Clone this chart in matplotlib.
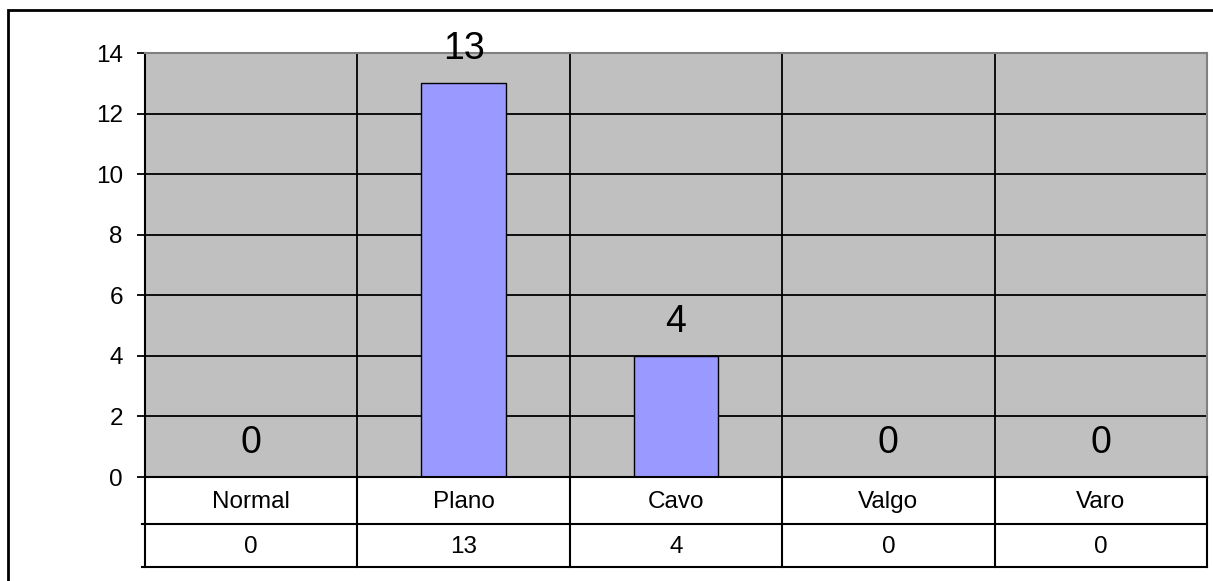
import matplotlib
matplotlib.use("Agg")
import matplotlib.pyplot as plt
from matplotlib.patches import Rectangle
from matplotlib.transforms import blended_transform_factory

categories = ["Normal", "Plano", "Cavo", "Valgo", "Varo"]
values = [0, 13, 4, 0, 0]
yticks = [0, 2, 4, 6, 8, 10, 12, 14]

plt.rcParams['font.family'] = ['Liberation Sans', 'DejaVu Sans']

W, H = 1213, 581
fig = plt.figure(figsize=(W / 100, H / 100), dpi=100)
fig.patch.set_facecolor('white')

# outer frame
fig.patches.append(Rectangle((8 / W, 0 - 0.05), 1.2, (H - 10) / H + 0.05,
                             transform=fig.transFigure, fill=False,
                             edgecolor='black', linewidth=2))

l, r, t, b = 145, 1207, 53, 477
ax = fig.add_axes([l / W, (H - b) / H, (r - l) / W, (b - t) / H])
ax.set_facecolor('#C0C0C0')

n = len(categories)
ax.set_xlim(-0.5, n - 0.5)
ax.set_ylim(0, 14)

for y in yticks[1:]:
    ax.axhline(y, color='black', linewidth=1.3, zorder=1)
for i in range(1, n):
    ax.axvline(i - 0.5, color='black', linewidth=1.3, zorder=1)

ax.bar(range(n), values, width=0.4, color='#9999FF', edgecolor='black',
       linewidth=1.0, zorder=2)

for i, v in enumerate(values):
    ax.annotate(str(v), (i, v), xytext=(0, 34), textcoords='offset pixels',
                ha='center', va='center', fontsize=27, zorder=3,
                annotation_clip=False)

ax.set_yticks(yticks)
ax.set_yticklabels([str(y) for y in yticks], fontsize=17.5)
ax.tick_params(axis='y', direction='out', length=6, width=1.3, pad=10)
ax.set_xticks([])
for s in ['top', 'right']:
    ax.spines[s].set_color('#808080')
    ax.spines[s].set_linewidth(1.5)
ax.spines['left'].set_linewidth(1.5)
ax.spines['bottom'].set_linewidth(1.5)

# data table below
trans = blended_transform_factory(ax.transData, ax.transAxes)
ph = b - t
row1 = -(524 - b) / ph
row2 = -(567 - b) / ph
base1 = -(508 - b) / ph
base2 = -(553 - b) / ph
x0 = -0.5 - 3 / ((r - l) / n)
for yy in [row1, row2]:
    ax.plot([x0, n - 0.5], [yy, yy], transform=trans, color='black',
            linewidth=1.5, clip_on=False)
for i in range(n + 1):
    ax.plot([i - 0.5, i - 0.5], [0, row2], transform=trans, color='black',
            linewidth=1.5, clip_on=False)
for i, (c, v) in enumerate(zip(categories, values)):
    ax.text(i, base1, c, transform=trans, ha='center', va='baseline',
            fontsize=17.5)
    ax.text(i, base2, str(v), transform=trans, ha='center',
            va='baseline', fontsize=17.5)

fig.savefig('out.png', dpi=100)
